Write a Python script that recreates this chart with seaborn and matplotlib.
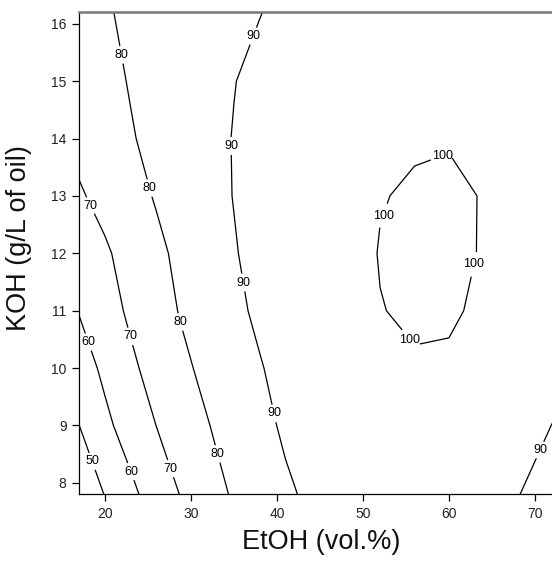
import numpy as np
import matplotlib
matplotlib.use("Agg")
import matplotlib.pyplot as plt
import seaborn as sns

# ---- data ----
etoh = [17, 20, 23, 26, 29, 32, 35, 38, 41, 44, 48, 52, 56, 60, 64, 68, 73]
koh = [7.8, 9.0, 10.0, 11.0, 12.0, 13.0, 14.0, 15.0, 16.2]
yield_78 = [42.2, 50.3, 57.8, 64.6, 70.7, 76.2, 81.0, 85.2, 88.7, 91.5, 94.2, 95.8, 96.2, 95.4, 93.4, 90.3, 84.7]
yield_90 = [49.9, 57.9, 64.2, 70.1, 74.8, 79.7, 83.7, 87.6, 91.25, 93.9, 96.5, 98.1, 98.6, 98.0, 96.4, 93.8, 88.9]
yield_100 = [55.4, 61.9, 68.3, 73.5, 78.3, 82.3, 85.9, 89.5, 92.5, 94.9, 97.4, 98.9, 99.7, 99.5, 98.2, 96.2, 92.5]
yield_110 = [60.4, 66.2, 71.5, 76.4, 80.8, 84.8, 88.3, 91.4, 94.0, 96.2, 98.4, 99.9, 100.45, 100.45, 99.4, 97.5, 94.2]
yield_120 = [64.7, 68.8, 73.3, 78.1, 82.2, 85.9, 89.5, 92.35, 94.7, 96.7, 98.5, 100.15, 100.64, 100.59, 99.85, 98.4, 95.7]
yield_130 = [69.0, 72.7, 76.9, 80.7, 84.2, 87.4, 90.2, 92.65, 94.8, 96.6, 98.45, 99.85, 100.38, 100.44, 99.9, 98.75, 96.5]
yield_140 = [72.5, 76.0, 79.4, 82.2, 84.9, 87.6, 90.3, 92.3, 94.25, 95.9, 97.7, 98.9, 99.65, 99.85, 99.5, 98.7, 96.9]
yield_150 = [74.5, 77.6, 80.5, 82.8, 85.1, 87.4, 89.8, 91.85, 93.6, 95.2, 96.8, 97.97, 98.67, 98.9, 98.67, 97.97, 96.4]
yield_162 = [76.5, 79.3, 81.3, 83.0, 84.7, 86.4, 88.1, 89.8, 91.7, 93.4, 95.2, 96.6, 97.4, 97.8, 97.65, 97.05, 95.6]
levels = [50, 60, 70, 80, 90, 100]
x_ticks = [20, 30, 40, 50, 60, 70]
y_ticks = [8, 9, 10, 11, 12, 13, 14, 15, 16]

Z = np.array([yield_78, yield_90, yield_100, yield_110, yield_120,
              yield_130, yield_140, yield_150, yield_162])
X, Y = np.meshgrid(etoh, koh)

# ---- style ----
sns.set_style("ticks")
plt.rcParams['font.family'] = ['Liberation Sans', 'DejaVu Sans']

fig = plt.figure(figsize=(5.52, 5.63), dpi=100)
ax = fig.add_axes([79 / 552, 1 - 494.3 / 563, 477.5 / 552, 482 / 563])

cs = ax.contour(X, Y, Z, levels=levels, colors="black", linewidths=0.9)

label_pos = [
    (18.45, 8.37),
    (18.0, 10.45), (22.9, 8.19),
    (18.3, 12.83), (22.9, 10.55), (27.7, 8.25),
    (21.6, 15.45), (25.0, 13.13), (28.7, 10.8), (33.0, 8.5),
    (37.0, 15.8), (34.65, 13.87), (35.7, 11.48), (39.4, 9.2), (70.6, 8.57),
    (59.3, 13.69), (52.7, 12.64), (63.1, 11.8), (54.1, 10.33),
]
texts = ax.clabel(cs, fmt="%d", fontsize=9, inline=True, inline_spacing=2,
                  manual=label_pos, colors="black")
for t in cs.labelTexts:
    t.set_rotation(0)

ax.set_xlim(17, 72.5)
ax.set_ylim(7.8, 16.2)
ax.set_xticks(x_ticks)
ax.set_yticks(y_ticks)
ax.tick_params(axis="both", direction="out", length=5, width=0.9,
               labelsize=10, color="black", labelcolor="#222222", pad=4)

ax.spines["right"].set_visible(False)
ax.spines["top"].set_color("#777777")
ax.spines["top"].set_linewidth(1.8)
for s in ("left", "bottom"):
    ax.spines[s].set_color("black")
    ax.spines[s].set_linewidth(0.9)

ax.set_xlabel("EtOH (vol.%)", fontsize=19.5, color="#111111")
ax.set_ylabel("KOH (g/L of oil)", fontsize=19.5, color="#111111")
ax.xaxis.set_label_coords(0.507, -0.072)
ax.yaxis.set_label_coords(-0.098, 0.531)

fig.savefig("out.png", dpi=100)
